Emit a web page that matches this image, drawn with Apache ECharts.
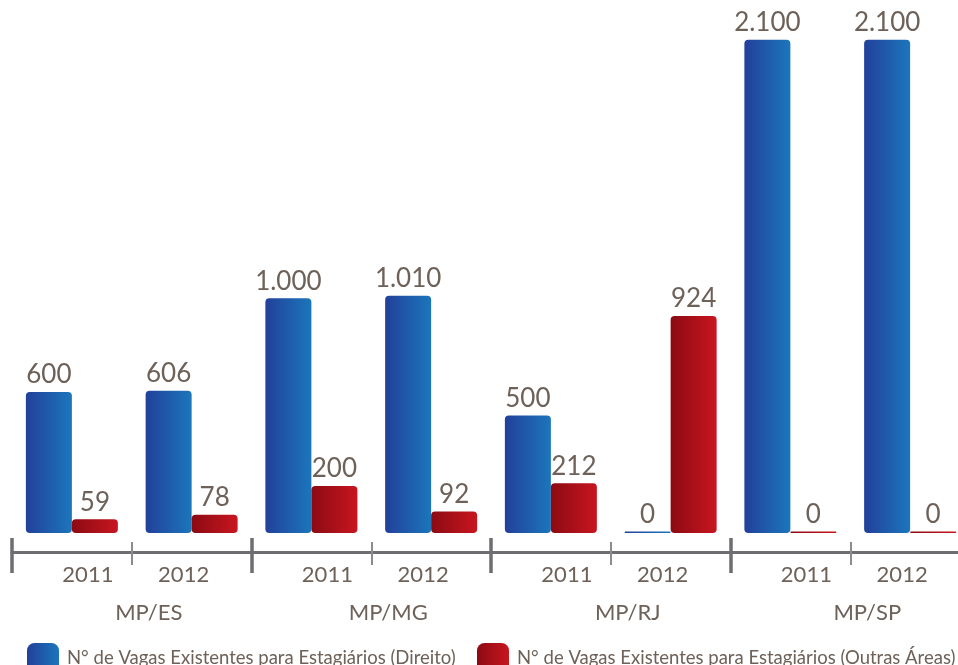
<!DOCTYPE html>
<html>
<head>
<meta charset="utf-8">
<script src="https://cdn.jsdelivr.net/npm/echarts@6/dist/echarts.min.js"></script>
<style>
  html, body { margin: 0; padding: 0; background: #ffffff; }
  #chart { width: 958px; height: 665px; }
</style>
</head>
<body>
<div id="chart"></div>
<script>
// ---- data ----
const groups = ['MP/ES', 'MP/MG', 'MP/RJ', 'MP/SP'];
const years = ['2011', '2012'];
const direito = [600, 606, 1000, 1010, 500, 0, 2100, 2100];
const outras = [59, 78, 200, 92, 212, 924, 0, 0];
const seriesNames = [
  'N° de Vagas Existentes para Estagiários (Direito)',
  'N° de Vagas Existentes para Estagiários (Outras Áreas)'
];

const categories = [];
groups.forEach(g => years.forEach(y => categories.push(g + '|' + y)));

const FONT = 'Lato';
const TEXT = '#6d6158';
const AXIS = '#6d6e71';

function fmt(v) {
  return String(v).replace(/\B(?=(\d{3})+(?!\d))/g, '.');
}

function grad(c0, c1) {
  return new echarts.graphic.LinearGradient(0, 0, 1, 0, [
    { offset: 0, color: c0 }, { offset: 1, color: c1 }
  ]);
}

const blue = grad('#22409a', '#1b76bc');
const red = grad('#8c0a13', '#c8161f');

function tickAxis(intervalFn, inside, length, width, color, showLine, labels) {
  return {
    type: 'category',
    data: categories,
    position: 'bottom',
    offset: 19,
    boundaryGap: true,
    axisLine: { show: showLine, onZero: false, lineStyle: { color: AXIS, width: 3 } },
    axisTick: {
      show: true, inside: inside, length: length,
      interval: intervalFn,
      lineStyle: { color: color, width: width }
    },
    axisLabel: labels || { show: false },
    splitLine: { show: false }
  };
}

const even = (i) => i % 2 === 0;
const odd = (i) => i % 2 === 1;

function legendFor(name, left) {
  return {
    left: left, top: 638,
    itemWidth: 32, itemHeight: 30,
    icon: 'roundRect',
    textStyle: { fontFamily: FONT, fontSize: 18.5, color: TEXT, padding: [0, 0, 0, 3] },
    data: [name]
  };
}

const option = {
  animation: false,
  backgroundColor: '#ffffff',
  grid: { left: 12, width: 958, top: 14, bottom: 132, containLabel: false, outerBoundsMode: 'none' },
  legend: [legendFor(seriesNames[0], 22), legendFor(seriesNames[1], 472)],
  xAxis: [
    tickAxis(even, false, 21, 3.5, AXIS, true, {
      show: true, interval: 0, margin: 12,
      formatter: (v, i) => {
        const y = v.split('|')[1];
        return i % 2 === 0 ? '{a|' + y + '}' : '{b|' + y + '}';
      },
      rich: {
        a: { fontFamily: FONT, fontSize: 22, color: TEXT, padding: [0, 0, 0, 32] },
        b: { fontFamily: FONT, fontSize: 22, color: TEXT, padding: [0, 16, 0, 0] }
      }
    }),
    tickAxis(even, true, 14, 3.5, AXIS, false),
    tickAxis(odd, false, 13, 2, '#8b8c8e', false),
    tickAxis(odd, true, 10, 2, '#8b8c8e', false),
    {
      type: 'category',
      data: groups,
      position: 'bottom',
      offset: 19,
      axisLine: { show: false, onZero: false },
      axisTick: { show: false },
      axisLabel: {
        show: true, interval: 0, margin: 50,
        fontFamily: FONT, fontSize: 22, color: TEXT,
        padding: [0, 0, 0, 34]
      }
    }
  ],
  yAxis: {
    type: 'value', min: 0, max: 2210, show: false,
    splitLine: { show: false }
  },
  series: [
    {
      name: seriesNames[0], type: 'bar', xAxisIndex: 0,
      data: direito, barWidth: 46, barGap: '0%', barMinHeight: 1.5,
      itemStyle: { color: blue, borderRadius: 4 },
      label: {
        show: true, position: 'top', distance: 4,
        fontFamily: FONT, fontSize: 26, color: TEXT,
        formatter: (p) => fmt(p.value)
      }
    },
    {
      name: seriesNames[1], type: 'bar', xAxisIndex: 0,
      data: outras, barWidth: 46, barGap: '0%', barMinHeight: 1.5,
      itemStyle: { color: red, borderRadius: 4 },
      label: {
        show: true, position: 'top', distance: 4,
        fontFamily: FONT, fontSize: 26, color: TEXT,
        formatter: (p) => fmt(p.value)
      }
    }
  ]
};

const chart = echarts.init(document.getElementById('chart'), null, { renderer: 'canvas' });
chart.setOption(option);
</script>
</body>
</html>
